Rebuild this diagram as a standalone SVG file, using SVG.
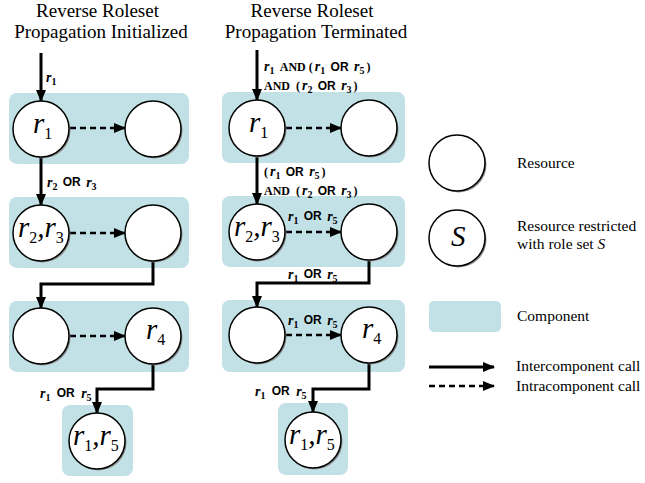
<svg xmlns="http://www.w3.org/2000/svg" width="645" height="483" viewBox="0 0 645 483">
<style>
.title{font-family:"Liberation Serif",serif;font-size:19px;fill:#000;text-anchor:middle}
.comp{fill:#c1e1e6}
.res{fill:#fff;stroke:#000;stroke-width:1.5}
.shd{fill:#8a8a8a}
.nl{font-family:"Liberation Serif",serif;font-size:29px;font-style:italic;fill:#000}
.sub{font-style:normal;font-size:16px}
.lbl{font-family:"Liberation Serif",serif;font-size:14px;font-weight:bold;font-style:italic;fill:#000}
.ls{font-style:normal;font-size:10px}
.op{font-family:"Liberation Sans",sans-serif;font-style:normal;font-size:12px;font-weight:bold}
.and{font-style:normal;font-size:12px}
.leg{font-family:"Liberation Serif",serif;font-size:15.5px;fill:#000}
.solid{fill:none;stroke:#000;stroke-width:3}
.dash{fill:none;stroke:#000;stroke-width:2.5;stroke-dasharray:6,4}
</style>
<defs>
<marker id="ah" markerWidth="12" markerHeight="10" refX="11" refY="5" orient="auto" markerUnits="userSpaceOnUse">
<path d="M0,0 L12,5 L0,10 Z" fill="#000"/>
</marker>
</defs>
<g id="titles">
<text class="title" x="97.5" y="17">Reverse Roleset</text>
<text class="title" x="101" y="38">Propagation Initialized</text>
<text class="title" x="312" y="17">Reverse Roleset</text>
<text class="title" x="316" y="38">Propagation Terminated</text>
</g>
<g id="components">
<rect class="comp" x="9" y="93" width="180" height="71" rx="8"/>
<rect class="comp" x="9" y="197" width="180" height="71" rx="8"/>
<rect class="comp" x="9" y="301" width="180" height="71" rx="8"/>
<rect class="comp" x="62" y="405" width="71" height="71" rx="8"/>
<rect class="comp" x="222" y="92" width="183" height="71" rx="8"/>
<rect class="comp" x="222" y="196" width="183" height="71" rx="8"/>
<rect class="comp" x="222" y="300" width="183" height="72" rx="8"/>
<rect class="comp" x="278" y="403" width="70" height="72" rx="8"/>
</g>
<g id="connectors">
<line class="solid" x1="41" y1="53" x2="41" y2="101" marker-end="url(#ah)"/>
<line class="solid" x1="41" y1="157" x2="41" y2="205" marker-end="url(#ah)"/>
<path class="solid" d="M153,261 V284 H41 V308" marker-end="url(#ah)"/>
<path class="solid" d="M153,364 V389 H97 V413" marker-end="url(#ah)"/>
<line class="dash" x1="70" y1="128" x2="125" y2="128" marker-end="url(#ah)"/>
<line class="dash" x1="70" y1="233" x2="125" y2="233" marker-end="url(#ah)"/>
<line class="dash" x1="70" y1="336" x2="125" y2="336" marker-end="url(#ah)"/>
<line class="solid" x1="257" y1="50" x2="257" y2="100" marker-end="url(#ah)"/>
<line class="solid" x1="257" y1="156" x2="257" y2="204" marker-end="url(#ah)"/>
<path class="solid" d="M369,260 V283 H257 V307" marker-end="url(#ah)"/>
<path class="solid" d="M369,364 V389 H313 V412" marker-end="url(#ah)"/>
<line class="dash" x1="286" y1="232" x2="341" y2="232" marker-end="url(#ah)"/>
<line class="dash" x1="286" y1="335" x2="341" y2="335" marker-end="url(#ah)"/>
<line class="dash" x1="286" y1="128" x2="341" y2="128" marker-end="url(#ah)"/>
</g>
<g id="labels">
<text class="lbl" x="46" y="82">r<tspan class="ls" dy="3">1</tspan></text>
<text class="lbl" x="47" y="187">r<tspan class="ls" dy="3">2</tspan><tspan class="op" dx="2" dy="-4"> OR </tspan><tspan dx="2" dy="1">r</tspan><tspan class="ls" dy="3">3</tspan></text>
<text class="lbl" x="40" y="398">r<tspan class="ls" dy="3">1</tspan><tspan class="op" dx="3" dy="-4"> OR </tspan><tspan dx="3" dy="1">r</tspan><tspan class="ls" dy="3">5</tspan></text>
<text class="lbl" x="264" y="71">r<tspan class="ls" dy="3">1</tspan><tspan class="and" dx="3" dy="-3"> AND (</tspan><tspan dx="2">r</tspan><tspan class="ls" dy="3">1</tspan><tspan class="op" dx="2" dy="-3"> OR </tspan><tspan dx="2">r</tspan><tspan class="ls" dy="3">5</tspan><tspan class="and" dx="2" dy="-3">)</tspan></text>
<text class="lbl" x="264" y="90"><tspan class="and">AND</tspan><tspan class="and" dx="3"> (</tspan><tspan dx="2">r</tspan><tspan class="ls" dy="3">2</tspan><tspan class="op" dx="2" dy="-3"> OR </tspan><tspan dx="2">r</tspan><tspan class="ls" dy="3">3</tspan><tspan class="and" dx="2" dy="-3">)</tspan></text>
<text class="lbl" x="264" y="176"><tspan class="and">(</tspan><tspan dx="2">r</tspan><tspan class="ls" dy="3">1</tspan><tspan class="op" dx="2" dy="-3"> OR </tspan><tspan dx="2">r</tspan><tspan class="ls" dy="3">5</tspan><tspan class="and" dx="2" dy="-3">)</tspan></text>
<text class="lbl" x="264" y="195"><tspan class="and">AND</tspan><tspan class="and" dx="3"> (</tspan><tspan dx="2">r</tspan><tspan class="ls" dy="3">2</tspan><tspan class="op" dx="2" dy="-3"> OR </tspan><tspan dx="2">r</tspan><tspan class="ls" dy="3">3</tspan><tspan class="and" dx="2" dy="-3">)</tspan></text>
<text class="lbl" x="288" y="221">r<tspan class="ls" dy="3">1</tspan><tspan class="op" dx="2" dy="-4"> OR </tspan><tspan dx="2" dy="1">r</tspan><tspan class="ls" dy="3">5</tspan></text>
<text class="lbl" x="288" y="279">r<tspan class="ls" dy="3">1</tspan><tspan class="op" dx="2" dy="-4"> OR </tspan><tspan dx="2" dy="1">r</tspan><tspan class="ls" dy="3">5</tspan></text>
<text class="lbl" x="288" y="325">r<tspan class="ls" dy="3">1</tspan><tspan class="op" dx="2" dy="-4"> OR </tspan><tspan dx="2" dy="1">r</tspan><tspan class="ls" dy="3">5</tspan></text>
<text class="lbl" x="255" y="396">r<tspan class="ls" dy="3">1</tspan><tspan class="op" dx="3" dy="-4"> OR </tspan><tspan dx="3" dy="1">r</tspan><tspan class="ls" dy="3">5</tspan></text>
</g>
<g id="n_l1a"><circle class="shd" cx="42.5" cy="130.5" r="28"/><circle class="res" cx="41" cy="129" r="28"/><text class="nl" x="33" y="133">r<tspan class="sub" dy="6">1</tspan></text></g>
<g id="n_l1b"><circle class="shd" cx="154.5" cy="130.5" r="28"/><circle class="res" cx="153" cy="129" r="28"/></g>
<g id="n_l2a"><circle class="shd" cx="42.5" cy="234.5" r="28"/><circle class="res" cx="41" cy="233" r="28"/><text class="nl" x="18" y="237">r<tspan class="sub" dy="6">2</tspan><tspan dy="-6">,r</tspan><tspan class="sub" dy="6">3</tspan></text></g>
<g id="n_l2b"><circle class="shd" cx="154.5" cy="234.5" r="28"/><circle class="res" cx="153" cy="233" r="28"/></g>
<g id="n_l3a"><circle class="shd" cx="42.5" cy="337.5" r="28"/><circle class="res" cx="41" cy="336" r="28"/></g>
<g id="n_l3b"><circle class="shd" cx="154.5" cy="337.5" r="28"/><circle class="res" cx="153" cy="336" r="28"/><text class="nl" x="146" y="339">r<tspan class="sub" dy="6">4</tspan></text></g>
<g id="n_l4"><circle class="shd" cx="98.5" cy="442.5" r="28"/><circle class="res" cx="97" cy="441" r="28"/><text class="nl" x="73" y="445">r<tspan class="sub" dy="6">1</tspan><tspan dy="-6">,r</tspan><tspan class="sub" dy="6">5</tspan></text></g>
<g id="n_r1a"><circle class="shd" cx="258.5" cy="129.5" r="28"/><circle class="res" cx="257" cy="128" r="28"/><text class="nl" x="249" y="132">r<tspan class="sub" dy="6">1</tspan></text></g>
<g id="n_r1b"><circle class="shd" cx="370.5" cy="129.5" r="28"/><circle class="res" cx="369" cy="128" r="28"/></g>
<g id="n_r2a"><circle class="shd" cx="258.5" cy="233.5" r="28"/><circle class="res" cx="257" cy="232" r="28"/><text class="nl" x="234" y="236">r<tspan class="sub" dy="6">2</tspan><tspan dy="-6">,r</tspan><tspan class="sub" dy="6">3</tspan></text></g>
<g id="n_r2b"><circle class="shd" cx="370.5" cy="233.5" r="28"/><circle class="res" cx="369" cy="232" r="28"/></g>
<g id="n_r3a"><circle class="shd" cx="258.5" cy="336.5" r="28"/><circle class="res" cx="257" cy="335" r="28"/></g>
<g id="n_r3b"><circle class="shd" cx="370.5" cy="336.5" r="28"/><circle class="res" cx="369" cy="335" r="28"/><text class="nl" x="362" y="338">r<tspan class="sub" dy="6">4</tspan></text></g>
<g id="n_r4"><circle class="shd" cx="314.5" cy="441.5" r="28"/><circle class="res" cx="313" cy="440" r="28"/><text class="nl" x="289" y="444">r<tspan class="sub" dy="6">1</tspan><tspan dy="-6">,r</tspan><tspan class="sub" dy="6">5</tspan></text></g>
<g id="legend">
<circle class="shd" cx="458.5" cy="164.5" r="28"/><circle class="res" cx="457" cy="163" r="28"/>
<text class="leg" x="517" y="168">Resource</text>
<circle class="shd" cx="458.5" cy="239.5" r="28"/><circle class="res" cx="457" cy="238" r="28"/>
<text class="nl" x="451" y="246" font-size="24">S</text>
<text class="leg" x="517" y="231">Resource restricted</text>
<text class="leg" x="517" y="249">with role set <tspan font-style="italic">S</tspan></text>
<rect class="comp" x="429" y="301" width="72" height="31" rx="5"/>
<text class="leg" x="517" y="321">Component</text>
<line class="solid" x1="429" y1="367" x2="494" y2="367" marker-end="url(#ah)"/>
<text class="leg" x="516" y="371">Intercomponent call</text>
<line class="dash" x1="429" y1="386" x2="494" y2="386" marker-end="url(#ah)"/>
<text class="leg" x="516" y="391">Intracomponent call</text>
</g>
</svg>
